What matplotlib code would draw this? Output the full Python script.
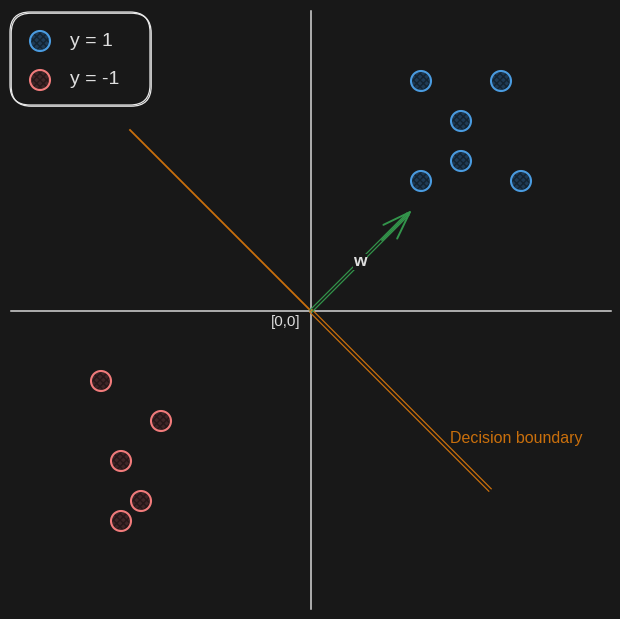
import numpy as np
import matplotlib
matplotlib.use('Agg')
import matplotlib.pyplot as plt
from matplotlib.patches import Circle, FancyBboxPatch

plt.rcParams['font.family'] = ['Liberation Sans', 'DejaVu Sans']
plt.rcParams['hatch.linewidth'] = 1.0

# data (1 unit = 10 px, origin in the middle)
blue_x = [11, 19, 15, 15, 11, 21]
blue_y = [23, 23, 19, 15, 13, 13]
red_x = [-21, -15, -19, -17, -19]
red_y = [-7, -11, -15, -19, -21]
w_vec = [10.1, 10.1]
boundary_start = [-18.1, 18.1]
boundary_end = [17.9, -17.9]
legend_labels = ['y = 1', 'y = -1']

bg = '#181818'
grey = '#d6d6d6'
txt = '#dedede'
orange = '#c96f0c'
green = '#33944b'
blue_edge, blue_fill, blue_hatch = '#4a9be0', '#1f3a54', '#132330'
red_edge, red_fill, red_hatch = '#f07b7b', '#3e2527', '#251718'

fig = plt.figure(figsize=(6.2, 6.19), dpi=100, facecolor=bg)
ax = fig.add_axes([0, 0, 1, 1])
ax.set_facecolor(bg)
ax.set_xlim(-31.1, 30.9)
ax.set_ylim(-30.8, 31.1)
ax.set_aspect('equal')
ax.axis('off')

# axes cross
ax.plot([-30, 30], [0, 0], color=grey, lw=1.1)
ax.plot([0, 0], [30, -29.8], color=grey, lw=1.1)
ax.text(-1.1, -1.1, '[0,0]', ha='right', va='center', color=txt, fontsize=11)

# decision boundary (sketchy double stroke on lower half)
ax.plot([boundary_start[0], 0], [boundary_start[1], 0], color=orange, lw=1.3)
for off in (-0.12, 0.12):
    ax.plot([0 + off, boundary_end[0] + off], [0 + off, boundary_end[1] + off],
            color=orange, lw=0.9)
ax.text(13.9, -12.8, 'Decision boundary', ha='left', va='center',
        color=orange, fontsize=11.5)

# w vector (double stroke)
for off in (-0.1, 0.1):
    ax.plot([0 + off, w_vec[0] - 0.4 + off], [0 - off, w_vec[1] - 0.4 - off],
            color=green, lw=0.9)
ax.annotate('', xy=w_vec, xytext=(w_vec[0] - 3, w_vec[1] - 3),
            arrowprops=dict(arrowstyle='->,head_length=2.0,head_width=0.7',
                            color=green, lw=1.4, shrinkA=0, shrinkB=0))
ax.text(4.9, 4.9, 'w', ha='center', va='center', color=txt, fontsize=12.5,
        fontweight='bold',
        bbox=dict(facecolor=bg, edgecolor='none', pad=0.5))


def dot(x, y, edge, fill, hatch):
    ax.add_patch(Circle((x, y), 1.0, facecolor=fill, edgecolor=hatch,
                        hatch='xxxxx', lw=0))
    ax.add_patch(Circle((x, y), 1.0, fill=False, edgecolor=edge, lw=1.5))


for x, y in zip(blue_x, blue_y):
    dot(x, y, blue_edge, blue_fill, blue_hatch)
for x, y in zip(red_x, red_y):
    dot(x, y, red_edge, red_fill, red_hatch)

# legend box
for d in (0, 0.12):
    ax.add_patch(FancyBboxPatch((-30.1 + d, 20.6 - d), 14.0, 9.3,
                                boxstyle='round,pad=0,rounding_size=2',
                                fill=False, edgecolor='#e8e8e8', lw=0.9))
dot(-27.1, 27.0, blue_edge, blue_fill, blue_hatch)
dot(-27.1, 23.1, red_edge, red_fill, red_hatch)
ax.text(-24.1, 27.0, legend_labels[0], ha='left', va='center', color=txt, fontsize=14)
ax.text(-24.1, 23.1, legend_labels[1], ha='left', va='center', color=txt, fontsize=14)

fig.savefig('out.png', dpi=100, facecolor=bg)
